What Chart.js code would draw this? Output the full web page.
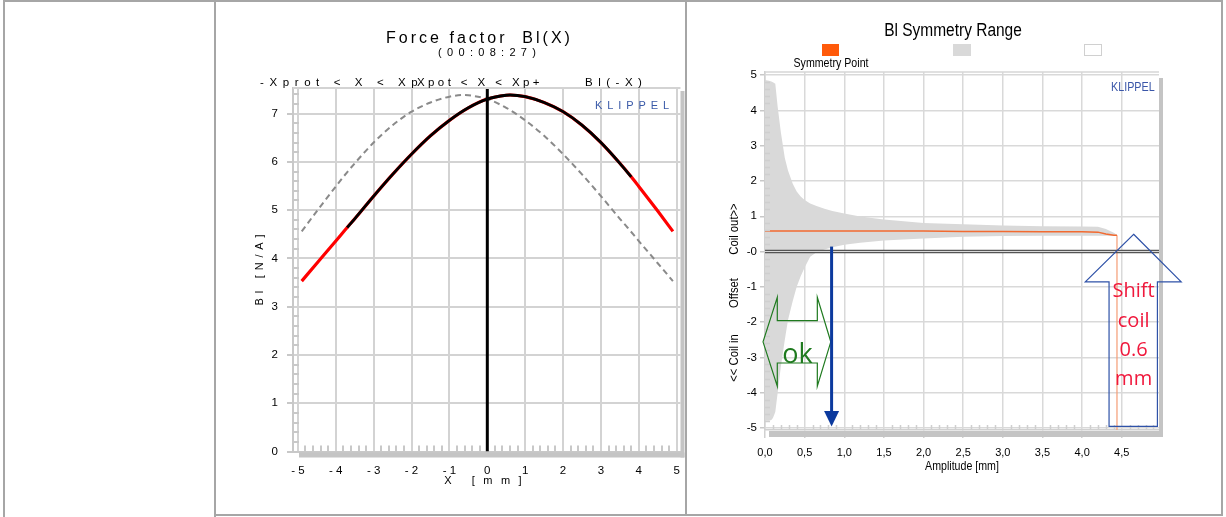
<!DOCTYPE html>
<html><head><meta charset="utf-8">
<script src="https://cdn.jsdelivr.net/npm/chart.js@4.4.1/dist/chart.umd.min.js"></script>
<style>
html,body{margin:0;padding:0;background:#fff;width:1226px;height:517px;overflow:hidden;position:relative}
.ln{position:absolute;background:#a6a6a6}
canvas{position:absolute}
</style></head><body>
<div class="ln" style="left:3px;top:0;width:1220px;height:2px"></div>
<div class="ln" style="left:3px;top:0;width:2px;height:517px"></div>
<div class="ln" style="left:214px;top:0;width:2px;height:517px"></div>
<div class="ln" style="left:685px;top:0;width:2px;height:516px"></div>
<div class="ln" style="left:1221px;top:0;width:2px;height:516px"></div>
<div class="ln" style="left:214px;top:514px;width:1009px;height:2px"></div>
<canvas id="c1" width="476" height="512" style="left:216px;top:2px"></canvas>
<canvas id="c2" width="534" height="512" style="left:687px;top:2px"></canvas>
<script>
// ---------- Left chart data: Force factor Bl(X) ----------
const xMm     = [-4.9,-4.5,-4,-3.7,-3.5,-3,-2.5,-2,-1.5,-1,-0.5,0,0.5,0.6,1,1.5,2,2.5,3,3.5,3.8,4,4.5,4.9];
const blVals  = [3.53,3.90,4.36,4.64,4.82,5.29,5.74,6.16,6.54,6.86,7.12,7.30,7.38,7.385,7.35,7.23,7.04,6.76,6.40,5.97,5.69,5.49,4.98,4.56];
const xMirror = [-4.9,-4.5,-4,-3.8,-3.5,-3,-2.5,-2,-1.5,-1,-0.6,-0.5,0,0.5,1,1.5,2,2.5,3,3.5,3.7,4,4.5,4.9];
const blMirror= [4.56,4.98,5.49,5.69,5.97,6.40,6.76,7.04,7.23,7.35,7.385,7.38,7.30,7.12,6.86,6.54,6.16,5.74,5.29,4.82,4.64,4.36,3.90,3.53];
const xpMinus = -3.7, xpPlus = 3.8;
const leftLabels = ['-Xprot < X < Xp', 'Xpot < X < Xp+', 'Bl(-X)'];
const leftXTicks = [-5,-4,-3,-2,-1,0,1,2,3,4,5];
const leftYTicks = [0,1,2,3,4,5,6,7];

// ---------- Right chart data: Bl Symmetry Range ----------
const amp    = [0,0.05,0.08,0.1,0.13,0.16,0.2,0.25,0.29,0.35,0.4,0.45,0.5,0.57,0.65,0.75,0.85,1.0,1.2,1.5,2.0,2.5,3.0,3.5,4.0,4.2,4.3,4.4,4.44];
const upperB = [4.86,4.84,4.82,4.80,4.76,4.10,3.38,2.65,2.30,1.92,1.70,1.56,1.46,1.36,1.29,1.21,1.15,1.08,0.99,0.91,0.81,0.77,0.74,0.72,0.71,0.70,0.64,0.53,0.47];
const lowerB = [-4.80,-4.80,-4.78,-4.72,-4.55,-4.00,-3.26,-2.50,-1.94,-1.40,-1.00,-0.70,-0.45,-0.15,-0.02,0.06,0.12,0.19,0.25,0.31,0.37,0.42,0.44,0.45,0.45,0.45,0.45,0.45,0.46];
const symPt  = [0.58,0.58,0.58,0.58,0.58,0.58,0.58,0.58,0.58,0.58,0.58,0.58,0.58,0.58,0.58,0.58,0.58,0.58,0.58,0.58,0.58,0.57,0.57,0.56,0.56,0.55,0.50,0.46,0.46];
const zeroLines = [0.03,-0.03];
const rightLegend = ['Symmetry Point','',''];

const SANS = "'Liberation Sans', Arial, sans-serif";
Chart.defaults.font.family = SANS;
Chart.defaults.color = '#000';

function spaced(ctx, text, x, y, spacing, align) {
  const ws = []; let w = 0;
  for (const ch of text) { const m = ctx.measureText(ch).width; ws.push(m); w += m; }
  w += spacing * (ws.length - 1);
  let cx = align === 'center' ? x - w / 2 : (align === 'right' ? x - w : x);
  ctx.textAlign = 'left';
  let i = 0;
  for (const ch of text) { ctx.fillText(ch, cx, y); cx += ws[i++] + spacing; }
}
function narrow(ctx, text, x, y, sx, align) {
  ctx.save(); ctx.translate(x, y); ctx.scale(sx, 1);
  ctx.textAlign = align; ctx.fillText(text, 0, 0); ctx.restore();
}
const pts = (xs, ys) => xs.map((x, i) => ({x, y: ys[i]}));

// ---------- Left chart ----------
const blFull = pts(xMm, blVals);
const blMid = blFull.filter(p => p.x >= xpMinus && p.x <= xpPlus);
const L_YMAX = 7.53;

const leftDeco = {
  id: 'leftDeco',
  afterDraw(chart) {
    const {ctx, chartArea: a, scales: {x, y}} = chart;
    ctx.save();
    ctx.strokeStyle = '#d3d3d3'; ctx.lineWidth = 2;
    ctx.beginPath(); ctx.moveTo(a.left, a.top); ctx.lineTo(a.right, a.top); ctx.stroke();
    ctx.strokeStyle = '#c8c8c8'; ctx.lineWidth = 2;
    for (let i = 1; i < 38; i++) {
      if (i % 5 === 0) continue;
      const py = Math.round(y.getPixelForValue(i * 0.2));
      ctx.beginPath(); ctx.moveTo(a.left, py); ctx.lineTo(a.left + 6, py); ctx.stroke();
    }
    for (let i = -25; i <= 25; i++) {
      if (i % 5 === 0) continue;
      const px = Math.round(x.getPixelForValue(i * 0.2));
      ctx.beginPath(); ctx.moveTo(px, a.bottom); ctx.lineTo(px, a.bottom - 6); ctx.stroke();
    }
    ctx.fillStyle = '#c4c4c4';
    ctx.fillRect(a.left + 6, a.bottom + 1, a.right - a.left - 2, 5);
    ctx.fillRect(a.right, a.top + 3, 4, a.bottom - a.top + 3);
    ctx.fillStyle = '#000'; ctx.textBaseline = 'middle';
    ctx.font = '16px ' + SANS;
    spaced(ctx, 'Force factor  Bl(X)', 262, 37, 3.0, 'center');
    ctx.font = '11px ' + SANS;
    spaced(ctx, '(00:08:27)', 271, 51, 5.3, 'center');
    ctx.textBaseline = 'alphabetic';
    ctx.font = '11.5px ' + SANS;
    spaced(ctx, leftLabels[0], 44, 84, 5.6, 'left');
    spaced(ctx, leftLabels[1], 201, 84, 3.4, 'left');
    spaced(ctx, leftLabels[2], 369, 84, 5.5, 'left');
    ctx.textBaseline = 'middle';
    ctx.font = '11px ' + SANS;
    ctx.fillStyle = '#3a5aa8';
    spaced(ctx, 'KLIPPEL', 379, 104, 4.9, 'left');
    ctx.fillStyle = '#000';
    spaced(ctx, 'X [mm]', 267, 479, 8.5, 'center');
    ctx.translate(44, 268); ctx.rotate(-Math.PI / 2);
    spaced(ctx, 'Bl [N/A]', 0, 0, 4.8, 'center');
    ctx.restore();
  }
};

new Chart(document.getElementById('c1'), {
  type: 'line',
  data: { datasets: [
    { label: leftLabels[2], data: pts(xMirror, blMirror), borderColor: '#8a8a8a', borderWidth: 2, borderDash: [6, 4], pointRadius: 0, cubicInterpolationMode: 'monotone', order: 4 },
    { label: leftLabels[0], data: blFull, borderColor: '#ff0000', borderWidth: 3.2, pointRadius: 0, cubicInterpolationMode: 'monotone', order: 3 },
    { label: leftLabels[1], data: blMid, borderColor: '#000000', borderWidth: 2.8, pointRadius: 0, cubicInterpolationMode: 'monotone', order: 2 },
    { label: 'X=0', data: [{x: 0, y: 0}, {x: 0, y: L_YMAX}], borderColor: '#000', borderWidth: 3, pointRadius: 0, order: 1 }
  ]},
  options: {
    responsive: false, animation: false, devicePixelRatio: 1,
    layout: { padding: { left: 0, right: 10.5, top: 86, bottom: 22.5 } },
    plugins: { legend: { display: false }, tooltip: { enabled: false } },
    scales: {
      x: { type: 'linear', min: -5.13, max: 5.1,
        afterFit: s => { s.height = 40; },
        afterBuildTicks: s => { s.ticks = leftXTicks.map(v => ({value: v})); },
        ticks: { font: { size: 11.5 }, padding: 12, callback: v => v < 0 ? '- ' + (-v) : String(v) },
        grid: { color: '#d3d3d3', lineWidth: 2, drawTicks: false },
        border: { display: true, color: '#c8c8c8', width: 2 } },
      y: { min: 0, max: L_YMAX,
        afterFit: s => { s.width = 77; },
        afterBuildTicks: s => { s.ticks = leftYTicks.map(v => ({value: v})); },
        ticks: { font: { size: 11.5 }, padding: 9 },
        grid: { color: '#d3d3d3', lineWidth: 2, tickLength: 6, tickColor: '#c8c8c8' },
        border: { display: true, color: '#c8c8c8', width: 2 } }
    }
  },
  plugins: [leftDeco]
});

// ---------- Right chart ----------
const rightDeco = {
  id: 'rightDeco',
  afterDatasetsDraw(chart) {
    const {ctx, chartArea: a, scales: {x, y}} = chart;
    ctx.save();
    ctx.strokeStyle = '#cfcfcf'; ctx.lineWidth = 1.5;
    for (let i = -25; i <= 25; i++) {
      if (i % 5 === 0) continue;
      const py = Math.round(y.getPixelForValue(i * 0.2)) + 0.5;
      ctx.beginPath(); ctx.moveTo(a.left, py); ctx.lineTo(a.left + 5, py); ctx.stroke();
    }
    for (let i = 1; i < 50; i++) {
      if (i % 5 === 0) continue;
      const px = Math.round(x.getPixelForValue(i * 0.1)) + 0.5;
      ctx.beginPath(); ctx.moveTo(px, a.bottom); ctx.lineTo(px, a.bottom - 5); ctx.stroke();
    }
    ctx.restore();
  },
  afterDraw(chart) {
    const {ctx, chartArea: a, scales: {x, y}} = chart;
    const X = v => x.getPixelForValue(v), Y = v => y.getPixelForValue(v);
    ctx.save();
    ctx.strokeStyle = '#d6d6d6'; ctx.lineWidth = 1.5;
    ctx.beginPath(); ctx.moveTo(a.left, a.top); ctx.lineTo(a.right, a.top); ctx.stroke();
    ctx.fillStyle = '#c4c4c4';
    ctx.fillRect(a.left + 4, a.bottom + 1, a.right - a.left, 6);
    ctx.fillRect(a.right, a.top + 6, 4, a.bottom - a.top + 1);
    ctx.fillStyle = '#000'; ctx.textBaseline = 'middle';
    ctx.font = '18px ' + SANS;
    narrow(ctx, 'Bl Symmetry Range', 266, 29, 0.86, 'center');
    const ds = chart.data.datasets;
    ctx.fillStyle = '#ff5a0a'; ctx.fillRect(135, 42, 17, 12);
    ctx.fillStyle = ds[0].backgroundColor; ctx.fillRect(266, 42, 18, 12);
    ctx.fillStyle = '#fff'; ctx.strokeStyle = '#d0d0d0'; ctx.lineWidth = 1;
    ctx.fillRect(397, 42, 18, 12); ctx.strokeRect(397.5, 42.5, 17, 11);
    ctx.fillStyle = '#000'; ctx.font = '12.5px ' + SANS;
    narrow(ctx, rightLegend[0], 144, 62, 0.85, 'center');
    ctx.fillStyle = '#3a56a8';
    narrow(ctx, 'KLIPPEL', 424, 86, 0.86, 'left');
    ctx.fillStyle = '#000';
    narrow(ctx, 'Amplitude [mm]', 275, 465, 0.85, 'center');
    ctx.save();
    ctx.translate(48, 0); ctx.rotate(-Math.PI / 2);
    ctx.font = '12.5px ' + SANS;
    narrow(ctx, 'Coil out>>', -227, 0, 0.9, 'center');
    narrow(ctx, 'Offset', -291, 0, 0.9, 'center');
    narrow(ctx, '<< Coil in', -356, 0, 0.9, 'center');
    ctx.restore();
    // green "ok" double arrow
    ctx.strokeStyle = '#1f7a1f'; ctx.lineWidth = 1.2;
    const g = [[-0.025,-2.56],[0.155,-1.30],[0.155,-1.96],[0.66,-1.96],[0.66,-1.30],[0.83,-2.56],[0.66,-3.82],[0.66,-3.16],[0.155,-3.16],[0.155,-3.82]];
    ctx.beginPath(); g.forEach((p, i) => i ? ctx.lineTo(X(p[0]), Y(p[1])) : ctx.moveTo(X(p[0]), Y(p[1]))); ctx.closePath(); ctx.stroke();
    ctx.fillStyle = '#1f7a1f'; ctx.font = "27px 'Open Sans', " + SANS; ctx.textAlign = 'center'; ctx.textBaseline = 'alphabetic';
    ctx.fillText('ok', X(0.41), Y(-3.15));
    // blue down arrow
    ctx.strokeStyle = '#0c3a9e'; ctx.fillStyle = '#0c3a9e'; ctx.lineWidth = 3;
    ctx.beginPath(); ctx.moveTo(X(0.84), Y(0.14)); ctx.lineTo(X(0.84), Y(-4.55)); ctx.stroke();
    ctx.beginPath(); ctx.moveTo(X(0.84) - 7.5, Y(-4.52)); ctx.lineTo(X(0.84) + 7.5, Y(-4.52)); ctx.lineTo(X(0.84), Y(-4.96)); ctx.closePath(); ctx.fill();
    // shift arrow
    ctx.strokeStyle = '#2f52a8'; ctx.lineWidth = 1.2;
    const s = [[4.65,0.49],[5.25,-0.86],[4.95,-0.86],[4.95,-4.96],[4.34,-4.96],[4.34,-0.86],[4.04,-0.86]];
    ctx.beginPath(); s.forEach((p, i) => i ? ctx.lineTo(X(p[0]), Y(p[1])) : ctx.moveTo(X(p[0]), Y(p[1]))); ctx.closePath(); ctx.stroke();
    ctx.fillStyle = '#f0183c'; ctx.font = "20px 'Open Sans', " + SANS;
    ctx.fillText('Shift', X(4.65), Y(-1.29));
    ctx.fillText('coil', X(4.65), Y(-2.14));
    ctx.fillText('0.6', X(4.65), Y(-2.96));
    ctx.fillText('mm', X(4.65), Y(-3.78));
    ctx.restore();
  }
};

new Chart(document.getElementById('c2'), {
  type: 'line',
  data: { datasets: [
    { label: 'upper', data: pts(amp, upperB), fill: '+1', backgroundColor: '#d9d9d9', borderWidth: 0, pointRadius: 0, tension: 0, order: 10 },
    { label: 'lower', data: pts(amp, lowerB), fill: false, borderWidth: 0, borderColor: 'rgba(0,0,0,0)', pointRadius: 0, tension: 0, order: 9 },
    { label: rightLegend[0], data: pts(amp, symPt), borderColor: '#f26a30', borderWidth: 1.5, pointRadius: 0, tension: 0, order: 3 },
    { label: 'zero+', data: [{x: 0, y: zeroLines[0]}, {x: 4.97, y: zeroLines[0]}], borderColor: '#555', borderWidth: 1.2, pointRadius: 0, order: 2 },
    { label: 'zero-', data: [{x: 0, y: zeroLines[1]}, {x: 4.97, y: zeroLines[1]}], borderColor: '#555', borderWidth: 1.2, pointRadius: 0, order: 2 },
    { label: 'end', data: [{x: amp[amp.length-1], y: symPt[symPt.length-1]}, {x: amp[amp.length-1], y: -5.06}], borderColor: 'rgba(245,160,120,0.55)', borderWidth: 1, pointRadius: 0, order: 4 }
  ]},
  options: {
    responsive: false, animation: false, devicePixelRatio: 1,
    layout: { padding: { left: 0, right: 62, top: 70, bottom: 44 } },
    plugins: { legend: { display: false }, tooltip: { enabled: false } },
    scales: {
      x: { type: 'linear', min: 0, max: 4.97,
        afterFit: s => { s.height = 40; },
        ticks: { stepSize: 0.5, includeBounds: false, font: { size: 11 }, padding: 8,
          callback: v => v.toFixed(1).replace('.', ',') },
        grid: { color: '#d9d9d9', lineWidth: 1.5, tickLength: 8, tickColor: '#d0d0d0' },
        border: { display: true, color: '#d0d0d0', width: 1.5 } },
      y: { min: -5.06, max: 5.09,
        afterFit: s => { s.width = 78; },
        ticks: { stepSize: 1, includeBounds: false, font: { size: 11.5 }, padding: 3,
          callback: v => v === 0 ? '-0' : String(v) },
        grid: { color: '#d9d9d9', lineWidth: 1.5, tickLength: 5, tickColor: '#c8c8c8' },
        border: { display: true, color: '#d0d0d0', width: 1.5 } }
    }
  },
  plugins: [rightDeco]
});
</script>
</body></html>
